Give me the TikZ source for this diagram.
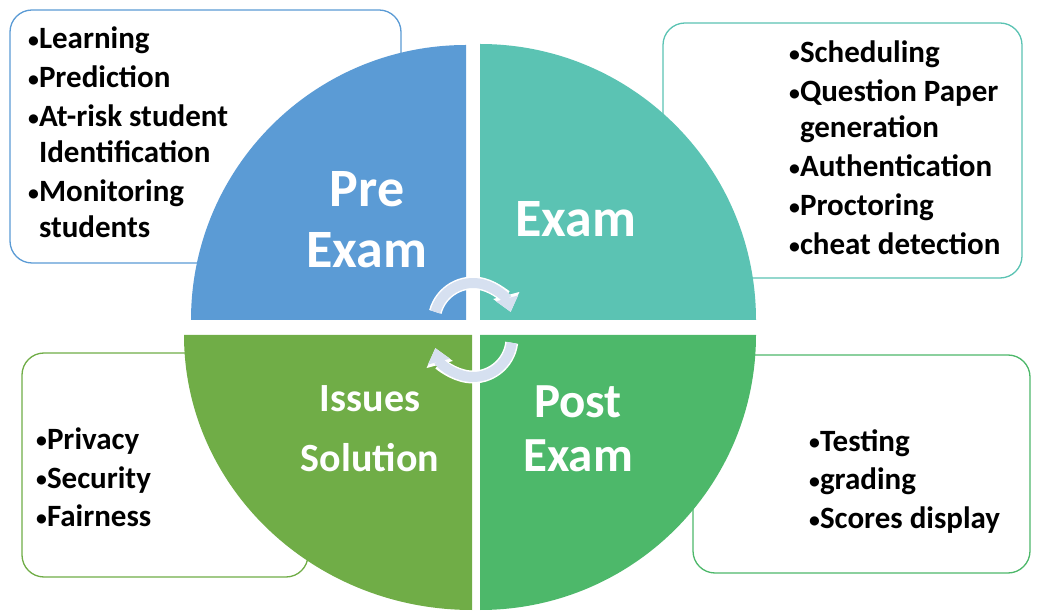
\documentclass[tikz,border=0pt]{standalone}
\usepackage{fontspec}
\setmainfont{Carlito}
\usetikzlibrary{arrows.meta}
\definecolor{preblue}{RGB}{91,155,213}
\definecolor{examteal}{RGB}{91,195,179}
\definecolor{issuegreen}{RGB}{112,173,71}
\definecolor{postgreen}{RGB}{77,184,106}
\definecolor{turngray}{RGB}{214,224,240}
\newcommand{\dotmark}{\raisebox{0.1ex}{\scalebox{0.7}{•}}}
\tikzset{>=latex}
\tikzset{
  infobox/.style={draw, rounded corners=22pt, fill=white, line width=1.3pt, inner sep=0pt},
  itemlist/.style={anchor=base west, align=left, inner sep=0pt, font=\bfseries\fontsize{31}{36}\selectfont},
  stagename/.style={anchor=base, align=center, inner sep=0pt, text=white},
  turnhalo/.style={line width=13pt, white, -{Triangle[width=26pt,length=17pt]}},
  turnarrow/.style={line width=10pt, turngray, -{Triangle[width=22pt,length=14pt]}},
}

\begin{document}
\begin{tikzpicture}[x=1pt,y=1pt]
  \useasboundingbox (0,0) rectangle (1037,611);
  % boxes behind the circle
  \node[infobox, draw=preblue, minimum width=391pt, minimum height=253pt] (prebox) at (205.5,474.5) {};
  \node[infobox, draw=examteal, minimum width=359pt, minimum height=255pt] (exambox) at (842.5,460.5) {};
  \node[infobox, draw=issuegreen, minimum width=286pt, minimum height=224pt] (issuebox) at (165,146) {};
  \node[infobox, draw=postgreen, minimum width=337pt, minimum height=218pt] (postbox) at (861.5,147) {};
  % the four quarters
  \fill[preblue] (466,291) -- (191,291) arc[start angle=180, end angle=90, radius=275] -- cycle;
  \fill[examteal] (480,291) -- (480,567) arc[start angle=90, end angle=0, radius=276] -- cycle;
  \fill[issuegreen] (472,276) -- (184,276) arc[start angle=180, end angle=270, x radius=288, y radius=275] -- cycle;
  \fill[postgreen] (480,276) -- (480,1) arc[start angle=270, end angle=360, x radius=276, y radius=275] -- cycle;
  % lists (base = last line)
  \node[itemlist] (prelist) at (28,373) {\dotmark Learning\\[3pt] \dotmark Prediction\\[3pt] \dotmark At-risk student\\ \hphantom{\dotmark}Identification\\[3pt] \dotmark Monitoring\\ \hphantom{\dotmark}students};
  \node[itemlist] (examlist) at (789,356) {\dotmark Scheduling\\[3pt] \dotmark Question Paper\\ \hphantom{\dotmark}generation\\[3pt] \dotmark Authentication\\[3pt] \dotmark Proctoring\\[3pt] \dotmark cheat detection};
  \node[itemlist] (issuelist) at (36,84) {\dotmark Privacy\\[3pt] \dotmark Security\\[3pt] \dotmark Fairness};
  \node[itemlist] (postlist) at (809,82) {\dotmark Testing\\[3pt] \dotmark grading\\[3pt] \dotmark Scores display};
  % stage names
  \node[stagename, font=\bfseries\fontsize{54}{61}\selectfont] (pre) at (367,343) {Pre\\Exam};
  \node[stagename, font=\bfseries\fontsize{54}{61}\selectfont] (exam) at (576,374) {Exam};
  \node[stagename, font=\bfseries\fontsize{40}{60}\selectfont] (issues) at (370,139) {Issues\\Solution};
  \node[stagename, font=\bfseries\fontsize{49}{55}\selectfont] (post) at (578,139) {Post\\Exam};
  % turning arrows in the middle
  \draw[turnhalo] (473,289) ++(165:39) arc[start angle=165, end angle=15, radius=39];
  \draw[turnarrow] (473,289) ++(165:39) arc[start angle=165, end angle=15, radius=39];
  \draw[turnhalo] (473,273) ++(-7:39) arc[start angle=-7, end angle=-165, radius=39];
  \draw[turnarrow] (473,273) ++(-7:39) arc[start angle=-7, end angle=-165, radius=39];
\end{tikzpicture}
\end{document}
